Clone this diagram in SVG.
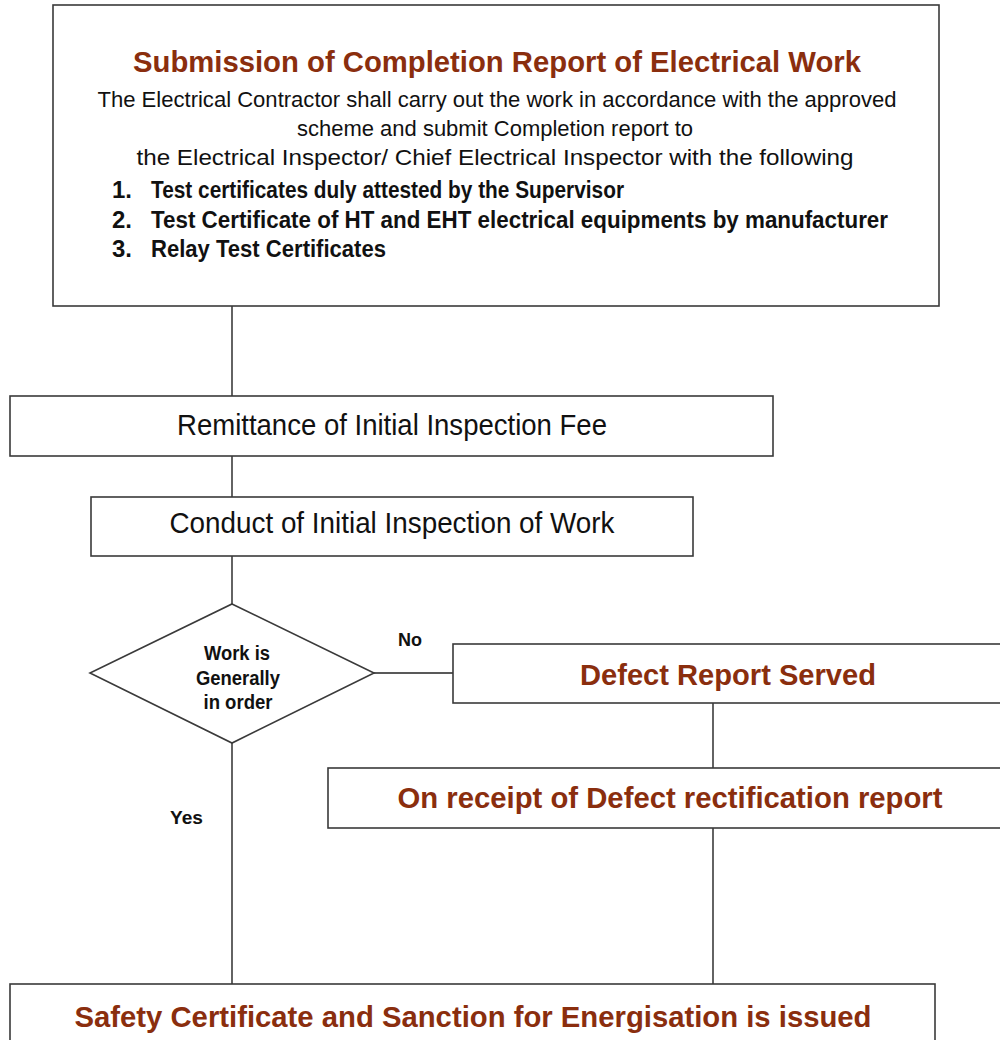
<svg xmlns="http://www.w3.org/2000/svg" width="1000" height="1040" viewBox="0 0 1000 1040">
<style>
.box{fill:#fff;stroke:#3a3a3a;stroke-width:1.6}
.ln{fill:none;stroke:#222;stroke-width:1.4}
.t{font-family:"Liberation Sans",Arial,sans-serif;fill:#111}
.b{font-weight:bold}
.red{font-family:"Liberation Sans",Arial,sans-serif;font-weight:bold;fill:#8a2e0e}
</style>
<rect width="1000" height="1040" fill="#fff"/>
<g id="connectors">
<line class="ln" x1="232" y1="306" x2="232" y2="396"/>
<line class="ln" x1="232" y1="456" x2="232" y2="497"/>
<line class="ln" x1="232" y1="556" x2="232" y2="604"/>
<line class="ln" x1="374" y1="673" x2="453" y2="673"/>
<line class="ln" x1="713" y1="703" x2="713" y2="768"/>
<line class="ln" x1="713" y1="828" x2="713" y2="984"/>
<line class="ln" x1="232" y1="743" x2="232" y2="984"/>
<text class="t b" x="398" y="646" font-size="18" textLength="24" lengthAdjust="spacingAndGlyphs">No</text>
<text class="t b" x="170" y="824" font-size="18" textLength="33" lengthAdjust="spacingAndGlyphs">Yes</text>
</g>
<g id="submission">
<rect class="box" x="53" y="5" width="886" height="301" stroke="#555" stroke-width="2"/>
<text class="red" x="497" y="72" font-size="29" text-anchor="middle" textLength="728" lengthAdjust="spacingAndGlyphs">Submission of Completion Report of Electrical Work</text>
<text class="t" x="497" y="107" font-size="22" text-anchor="middle" textLength="799" lengthAdjust="spacingAndGlyphs">The Electrical Contractor shall carry out the work in accordance with the approved</text>
<text class="t" x="495" y="136" font-size="22" text-anchor="middle" textLength="396" lengthAdjust="spacingAndGlyphs">scheme and submit Completion report to</text>
<text class="t" x="495" y="165" font-size="22" text-anchor="middle" textLength="717" lengthAdjust="spacingAndGlyphs">the Electrical Inspector/ Chief Electrical Inspector with the following</text>
<text class="t b" x="112" y="198" font-size="23" textLength="20" lengthAdjust="spacingAndGlyphs">1.</text>
<text class="t b" x="151" y="198" font-size="23" textLength="473" lengthAdjust="spacingAndGlyphs">Test certificates duly attested by the Supervisor</text>
<text class="t b" x="112" y="228" font-size="23" textLength="20" lengthAdjust="spacingAndGlyphs">2.</text>
<text class="t b" x="151" y="228" font-size="23" textLength="737" lengthAdjust="spacingAndGlyphs">Test Certificate of  HT and EHT  electrical equipments by manufacturer</text>
<text class="t b" x="112" y="257" font-size="23" textLength="20" lengthAdjust="spacingAndGlyphs">3.</text>
<text class="t b" x="151" y="257" font-size="23" textLength="235" lengthAdjust="spacingAndGlyphs">Relay Test Certificates</text>
</g>
<g id="remittance">
<rect class="box" x="10" y="396" width="763" height="60"/>
<text class="t" x="392" y="435" font-size="30" text-anchor="middle" textLength="430" lengthAdjust="spacingAndGlyphs">Remittance of Initial Inspection Fee</text>
</g>
<g id="conduct">
<rect class="box" x="91" y="497" width="602" height="59"/>
<text class="t" x="392" y="533" font-size="30" text-anchor="middle" textLength="445" lengthAdjust="spacingAndGlyphs">Conduct of Initial Inspection of Work</text>
</g>
<g id="decision">
<polygon class="box" points="232,604 374,673 232,743 90,673"/>
<text class="t b" x="237" y="660" font-size="20" text-anchor="middle" textLength="66" lengthAdjust="spacingAndGlyphs">Work is</text>
<text class="t b" x="238" y="685" font-size="20" text-anchor="middle" textLength="84" lengthAdjust="spacingAndGlyphs">Generally</text>
<text class="t b" x="238" y="709" font-size="20" text-anchor="middle" textLength="69" lengthAdjust="spacingAndGlyphs">in order</text>
</g>
<g id="defect">
<rect class="box" x="453" y="644" width="560" height="59"/>
<text class="red" x="728" y="685" font-size="29" text-anchor="middle" textLength="296" lengthAdjust="spacingAndGlyphs">Defect Report Served</text>
</g>
<g id="receipt">
<rect class="box" x="328" y="768" width="690" height="60"/>
<text class="red" x="670" y="808" font-size="29" text-anchor="middle" textLength="545" lengthAdjust="spacingAndGlyphs">On receipt of Defect rectification report</text>
</g>
<g id="safety">
<rect class="box" x="10" y="984" width="925" height="80"/>
<text class="red" x="473" y="1027" font-size="30" text-anchor="middle" textLength="797" lengthAdjust="spacingAndGlyphs">Safety Certificate and Sanction for Energisation is issued</text>
</g>
</svg>
